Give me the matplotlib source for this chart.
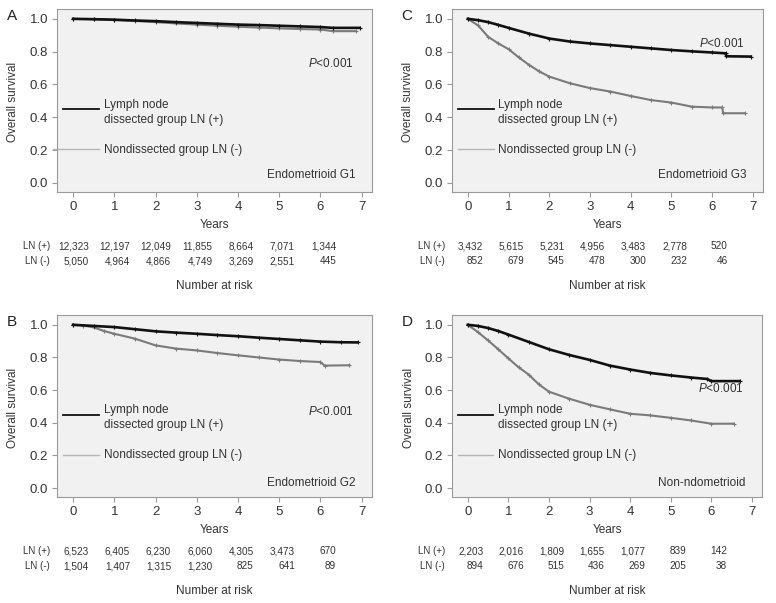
import matplotlib
matplotlib.use('Agg')
import matplotlib.pyplot as plt

plt.rcParams['font.family'] = ['Liberation Sans', 'DejaVu Sans']
plt.rcParams['mathtext.fontset'] = 'custom'
plt.rcParams['mathtext.it'] = 'Liberation Sans:italic'
plt.rcParams['mathtext.rm'] = 'Liberation Sans'

TXT = '#333333'

# survival curves (years, survival)
a_pos_x = [0, 0.5, 1, 1.5, 2, 2.5, 3, 3.5, 4, 4.5, 5, 5.5, 6, 6.3, 6.95]
a_pos_y = [1.0, 0.998, 0.995, 0.99, 0.986, 0.98, 0.975, 0.97, 0.965, 0.962, 0.958, 0.954, 0.95, 0.945, 0.945]
a_neg_x = [0, 0.5, 1, 1.5, 2, 2.5, 3, 3.5, 4, 4.5, 5, 5.5, 6, 6.3, 6.85]
a_neg_y = [1.0, 0.997, 0.993, 0.987, 0.98, 0.972, 0.965, 0.958, 0.952, 0.947, 0.942, 0.938, 0.935, 0.925, 0.925]

b_pos_x = [0, 0.5, 1, 1.5, 2, 2.5, 3, 3.5, 4, 4.5, 5, 5.5, 6, 6.5, 6.9]
b_pos_y = [1.0, 0.993, 0.986, 0.973, 0.96, 0.952, 0.945, 0.937, 0.93, 0.921, 0.913, 0.905, 0.897, 0.893, 0.892]
b_neg_x = [0, 0.25, 0.5, 0.75, 1, 1.5, 2, 2.5, 3, 3.5, 4, 4.5, 5, 5.5, 6, 6.1, 6.7]
b_neg_y = [1.0, 0.995, 0.984, 0.962, 0.945, 0.915, 0.874, 0.854, 0.843, 0.827, 0.813, 0.8, 0.787, 0.778, 0.772, 0.75, 0.752]

c_pos_x = [0, 0.25, 0.5, 0.75, 1, 1.5, 2, 2.5, 3, 3.5, 4, 4.5, 5, 5.5, 6, 6.33, 6.35, 6.95]
c_pos_y = [1.0, 0.992, 0.98, 0.963, 0.945, 0.91, 0.88, 0.862, 0.85, 0.84, 0.83, 0.82, 0.81, 0.802, 0.795, 0.79, 0.772, 0.77]
c_neg_x = [0, 0.25, 0.5, 0.75, 1, 1.25, 1.5, 1.75, 2, 2.5, 3, 3.5, 4, 4.5, 5, 5.5, 6, 6.25, 6.27, 6.8]
c_neg_y = [1.0, 0.96, 0.89, 0.85, 0.815, 0.765, 0.72, 0.68, 0.648, 0.608, 0.578, 0.557, 0.53, 0.505, 0.49, 0.465, 0.46, 0.46, 0.425, 0.425]

d_pos_x = [0, 0.25, 0.5, 0.75, 1, 1.5, 2, 2.5, 3, 3.5, 4, 4.5, 5, 5.5, 5.9, 6.0, 6.7]
d_pos_y = [1.0, 0.993, 0.98, 0.962, 0.94, 0.895, 0.85, 0.815, 0.785, 0.75, 0.726, 0.705, 0.69, 0.677, 0.668, 0.655, 0.655]
d_neg_x = [0, 0.25, 0.5, 0.75, 1, 1.25, 1.5, 1.75, 2, 2.5, 3, 3.5, 4, 4.5, 5, 5.5, 6, 6.55]
d_neg_y = [1.0, 0.955, 0.904, 0.85, 0.794, 0.74, 0.695, 0.635, 0.59, 0.547, 0.51, 0.482, 0.455, 0.445, 0.43, 0.414, 0.394, 0.394]

# number at risk
years = [0, 1, 2, 3, 4, 5, 6]
a_risk_pos = ['12,323', '12,197', '12,049', '11,855', '8,664', '7,071', '1,344']
a_risk_neg = ['5,050', '4,964', '4,866', '4,749', '3,269', '2,551', '445']
b_risk_pos = ['6,523', '6,405', '6,230', '6,060', '4,305', '3,473', '670']
b_risk_neg = ['1,504', '1,407', '1,315', '1,230', '825', '641', '89']
c_risk_pos = ['3,432', '5,615', '5,231', '4,956', '3,483', '2,778', '520']
c_risk_neg = ['852', '679', '545', '478', '300', '232', '46']
d_risk_pos = ['2,203', '2,016', '1,809', '1,655', '1,077', '839', '142']
d_risk_neg = ['894', '676', '515', '436', '269', '205', '38']

panels = [
    # letter, box (left, right, top, bottom px), curves, risk, subtitle, p-value y
    ('A', (57, 372, 9, 192), (a_pos_x, a_pos_y, a_neg_x, a_neg_y), (a_risk_pos, a_risk_neg), 'Endometrioid G1', 0.73),
    ('C', (452, 763, 9, 192), (c_pos_x, c_pos_y, c_neg_x, c_neg_y), (c_risk_pos, c_risk_neg), 'Endometrioid G3', 0.85),
    ('B', (57, 372, 315, 497), (b_pos_x, b_pos_y, b_neg_x, b_neg_y), (b_risk_pos, b_risk_neg), 'Endometrioid G2', 0.47),
    ('D', (452, 762, 315, 497), (d_pos_x, d_pos_y, d_neg_x, d_neg_y), (d_risk_pos, d_risk_neg), 'Non-ndometrioid', 0.61),
]

W, H = 776, 603
fig = plt.figure(figsize=(W / 100, H / 100), dpi=100)

for letter, (l, r, t, b), (px, py, nx, ny), (rp, rn), sub, pv in panels:
    ax = fig.add_axes([l / W, 1 - b / H, (r - l) / W, (b - t) / H])
    ax.set_facecolor('#f1f1f1')
    for s in ax.spines.values():
        s.set_color('#9a9a9a')
        s.set_linewidth(0.8)
    ax.set_xlim(-0.39, 7.25)
    ax.set_ylim(-0.055, 1.06)
    ax.set_xticks(range(8))
    ax.set_yticks([0, 0.2, 0.4, 0.6, 0.8, 1.0])
    ax.set_yticklabels(['0.0', '0.2', '0.4', '0.6', '0.8', '1.0'])
    ax.tick_params(length=3.5, width=0.8, color='#9a9a9a', labelcolor=TXT, labelsize=9.5, pad=3)

    # curves with censor marks
    ax.plot(nx, ny, color='#7a7a7a', lw=1.5, marker='+', ms=3.5, mew=0.8)
    ax.plot(px, py, color='#111111', lw=1.9, marker='+', ms=3.5, mew=0.8)

    # legend drawn by hand
    gx0 = -0.48 if letter == 'A' else -0.25
    bx0 = -0.24 if letter == 'A' else -0.25
    ax.plot([bx0, 0.63], [0.45, 0.45], color='#111111', lw=1.3, clip_on=False)
    ax.plot([gx0, 0.63], [0.205, 0.205], color='#b5b5b5', lw=1.0, clip_on=False)
    ax.text(0.75, 0.475, 'Lymph node', fontsize=8.5, color=TXT, va='center')
    ax.text(0.75, 0.385, 'dissected group LN (+)', fontsize=8.5, color=TXT, va='center')
    ax.text(0.75, 0.2, 'Nondissected group LN (-)', fontsize=8.5, color=TXT, va='center')

    ax.text(6.8, pv, r'$\it{P}$<0.001', fontsize=8.5, color=TXT, ha='right', va='center')
    ax.text(6.85, 0.05 if letter in 'AC' else 0.03, sub, fontsize=8.5, color=TXT, ha='right', va='center')

    ax.text(-0.14, 0.49, 'Overall survival', transform=ax.transAxes, rotation=90,
            fontsize=8.5, color=TXT, ha='center', va='center')
    ax.text(0.5, -0.18, 'Years', transform=ax.transAxes, fontsize=8.5, color=TXT, ha='center', va='center')

    tr = ax.get_xaxis_transform()
    ax.text(-0.56, -0.314, 'LN (+)', transform=tr, fontsize=7, color=TXT, ha='right', va='baseline')
    ax.text(-0.56, -0.396, 'LN (-)', transform=tr, fontsize=7, color=TXT, ha='right', va='baseline')
    for yr, vp, vn in zip(years, rp, rn):
        ax.text(yr + 0.38, -0.314, vp, transform=tr, fontsize=7.2, color=TXT, ha='right', va='baseline')
        ax.text(yr + 0.38, -0.396, vn, transform=tr, fontsize=7.2, color=TXT, ha='right', va='baseline')
    ax.text(0.5, -0.515, 'Number at risk', transform=ax.transAxes, fontsize=8.5, color=TXT, ha='center', va='center')

    fig.text((l - 45) / W, 1 - (t + 7) / H, letter, fontsize=11, color='#222222', ha='center', va='center')

fig.savefig('out.png', dpi=100, facecolor='white')
